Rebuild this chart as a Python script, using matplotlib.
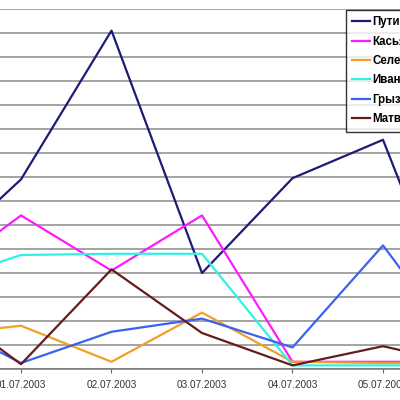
import numpy as np
import matplotlib
matplotlib.use("Agg")
import matplotlib.pyplot as plt

# categories (first and last fall outside the visible crop)
dates = ["30.06.2003", "01.07.2003", "02.07.2003", "03.07.2003",
         "04.07.2003", "05.07.2003", "06.07.2003"]
x_pos = np.arange(-1, 6)

# values in grid units
putin = [4.4, 7.9, 14.1, 4.0, 7.95, 9.55, 0.0]
kasyanov = [3.6, 6.4, 4.1, 6.4, 0.3, 0.3, 0.3]
seleznev = [1.4, 1.8, 0.3, 2.35, 0.3, 0.25, 0.25]
ivanov = [3.5, 4.75, 4.8, 4.8, 0.15, 0.15, 0.15]
gryzlov = [2.2, 0.25, 1.55, 2.1, 0.9, 5.15, 0.1]
matvienko = [3.0, 0.2, 4.15, 1.5, 0.15, 0.95, 0.1]

names = ["Путин", "Касьянов", "Селезнев", "Иванов", "Грызлов", "Матвиенко"]
series = [putin, kasyanov, seleznev, ivanov, gryzlov, matvienko]
colors = ["#1c1c78", "#ff1aff", "#f0a028", "#33f0e6", "#3a62f0", "#641c1c"]

plt.rcParams['font.family'] = ['Liberation Sans', 'DejaVu Sans']

fig = plt.figure(figsize=(4, 4), dpi=100)
ax = fig.add_axes([0, 31 / 400, 1, 360 / 400])

for vals, name, col in zip(series, names, colors):
    ax.plot(x_pos, vals, color=col, lw=1.6, label=name)

# only the categories that show in the crop get a tick
ax.set_xticks(x_pos[1:-1])
ax.set_xticklabels(dates[1:-1], fontsize=7.2, color="#333333")
ax.set_xlim(-21 / 90.5, 379 / 90.5)
ax.set_ylim(0, 15)
ax.set_yticks(np.arange(0, 16))
ax.yaxis.grid(True, color="#8a8a8a", lw=1.1)
ax.set_axisbelow(True)
ax.tick_params(axis="y", left=False, labelleft=False)
ax.tick_params(axis="x", direction="out", length=3, color="#666666", pad=5)
for s in ["left", "right", "top"]:
    ax.spines[s].set_visible(False)
ax.spines["bottom"].set_color("#777777")
ax.spines["bottom"].set_linewidth(1.1)

leg = fig.legend(loc="upper left", bbox_to_anchor=(346 / 400, 1 - 10 / 400),
                 frameon=True, fancybox=False, borderaxespad=0,
                 prop={"weight": "bold", "size": 8.3}, handlelength=1.55,
                 handletextpad=0.2, labelspacing=0.64, borderpad=0.55)
leg.get_frame().set_edgecolor("black")
leg.get_frame().set_linewidth(1.0)

fig.savefig("out.png", dpi=100)
